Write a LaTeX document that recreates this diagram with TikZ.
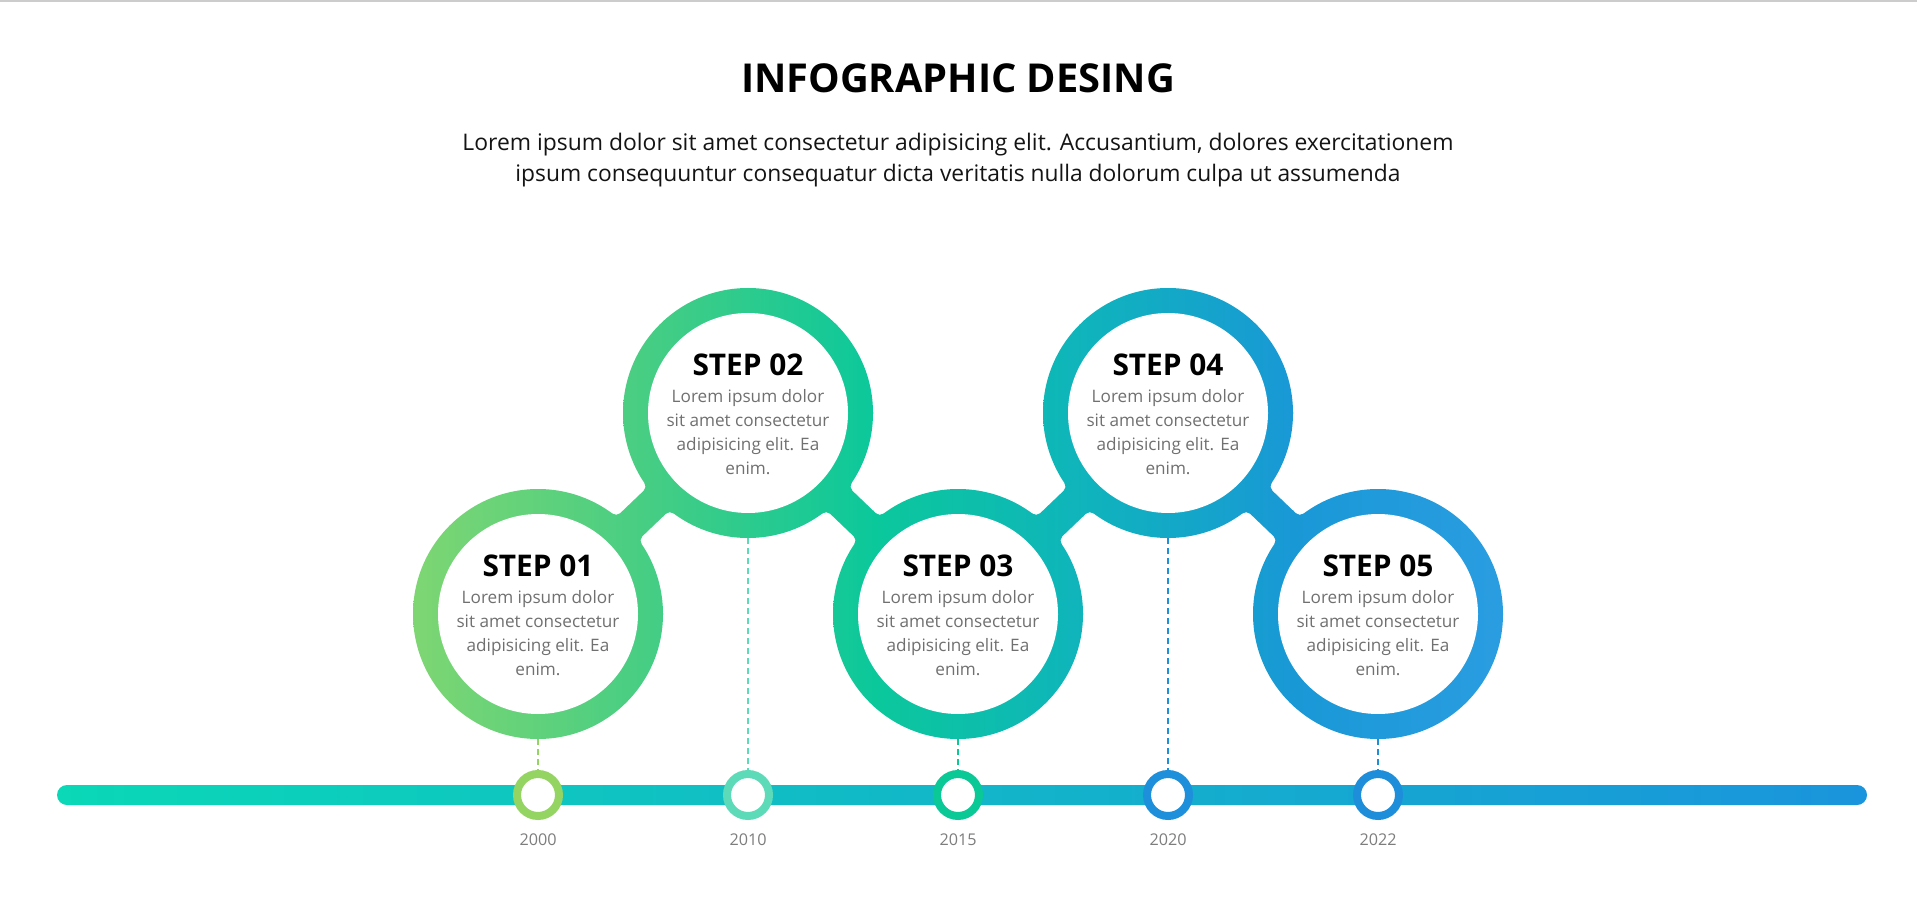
\documentclass[tikz,border=0pt]{standalone}
\usepackage{graphicx}
\usepackage{fontspec}
\setmainfont{Open Sans}
\usetikzlibrary{calc}
\definecolor{ga}{RGB}{126,214,114}
\definecolor{gb}{RGB}{66,205,133}
\definecolor{gc}{RGB}{11,200,155}
\definecolor{gd}{RGB}{15,180,188}
\definecolor{ge}{RGB}{25,152,214}
\definecolor{gf}{RGB}{42,157,225}
\definecolor{tla}{RGB}{10,216,182}
\definecolor{tlb}{RGB}{26,148,220}
\definecolor{bodygray}{RGB}{112,112,112}
\definecolor{yeargray}{RGB}{125,125,125}
\definecolor{ya}{RGB}{147,212,98}
\definecolor{yb}{RGB}{93,219,184}
\definecolor{yc}{RGB}{11,200,151}
\definecolor{yd}{RGB}{30,143,219}
\definecolor{ye}{RGB}{30,142,219}
\definecolor{topline}{RGB}{204,204,204}
\newcommand\ringgrad{%
  \shade[left color=ga,right color=gb] (413,280) rectangle (663.6,750);
  \shade[left color=gb,right color=gc] (663,280) rectangle (873.6,750);
  \shade[left color=gc,right color=gd] (873,280) rectangle (1083.6,750);
  \shade[left color=gd,right color=ge] (1083,280) rectangle (1293.6,750);
  \shade[left color=ge,right color=gf] (1293,280) rectangle (1504,750);
}
% neck with rounded fillets, drawn in a local frame (origin at first centre, x toward second)
\newcommand\neckpath{%
  (123.22,20.99) arc[start angle=189.68, end angle=270, radius=6]
  -- (161.56,16) arc[start angle=270, end angle=350.32, radius=6]
  -- (180,21) -- (180,-21) -- (167.48,-20.99)
  arc[start angle=9.68, end angle=90, radius=6]
  -- (129.14,-16) arc[start angle=90, end angle=170.32, radius=6]
  -- (110,-21) -- (110,21) -- cycle}
\tikzset{
  steptitle/.style={text=black, inner sep=0pt},
  stepbody/.style={text=bodygray, inner sep=0pt},
  yearring/.style={circle, line width=8pt, fill=white, minimum size=42pt, inner sep=0pt},
  yearlabel/.style={text=yeargray, inner sep=0pt},
  dashline/.style={line width=2pt, dash pattern=on 6pt off 4pt},
  ringnode/.style={circle, minimum size=250pt, inner sep=0pt}
}
\begin{document}
\begin{tikzpicture}[x=1pt,y=-1pt]
\useasboundingbox (0,0) rectangle (1917,909);
\fill[white] (0,0) rectangle (1917,909);
\fill[topline] (0,0) rectangle (1917,2);

\node[inner sep=0pt] (title) at (958,78.5) {\resizebox{434pt}{!}{\fontsize{38}{42}\selectfont\bfseries INFOGRAPHIC DESING}};
\node[inner sep=0pt, text={rgb,255:red,20;green,20;blue,20}] (sub1) at (958,144.5)
  {\resizebox{991pt}{!}{\fontsize{20}{24}\selectfont Lorem ipsum dolor sit amet consectetur adipisicing elit. Accusantium, dolores exercitationem}};
\node[inner sep=0pt, text={rgb,255:red,20;green,20;blue,20}] (sub2) at (958,176)
  {\resizebox{885pt}{!}{\fontsize{20}{24}\selectfont ipsum consequuntur consequatur dicta veritatis nulla dolorum culpa ut assumenda}};

% ring centres
\node[ringnode] (c1) at (538,614) {};
\node[ringnode] (c2) at (748,413) {};
\node[ringnode] (c3) at (958,614) {};
\node[ringnode] (c4) at (1168,413) {};
\node[ringnode] (c5) at (1378,614) {};

% timeline
\shade[left color=tla, right color=tlb, rounded corners=10pt] (57,785) rectangle (1867,805);

% year markers
\node[yearring, draw=ya] (y1) at (538,795) {};
\node[yearring, draw=yb] (y2) at (748,795) {};
\node[yearring, draw=yc] (y3) at (958,795) {};
\node[yearring, draw=yd] (y4) at (1168,795) {};
\node[yearring, draw=ye] (y5) at (1378,795) {};
\foreach \i/\yr in {1/2000,2/2010,3/2015,4/2020,5/2022}{
  \node[yearlabel] (l\i) at ($(y\i.center)+(0,45)$) {\resizebox{37pt}{!}{\fontsize{16}{18}\selectfont \yr}};
}

% dashed drop lines
\draw[dashline, draw=ya] (c1.south) -- (y1.north);
\draw[dashline, draw=yb] (c2.south) -- (y2.north);
\draw[dashline, draw=yc] (c3.south) -- (y3.north);
\draw[dashline, draw=yd] (c4.south) -- (y4.north);
\draw[dashline, draw=ye] (c5.south) -- (y5.north);

% necks
\foreach \a/\ang in {c1/43.746,c2/-43.746,c3/43.746,c4/-43.746}{
  \begin{scope}[shift={(\a.center)}, rotate=\ang]
    \clip \neckpath;
    \begin{scope}[reset cm]
      \ringgrad
    \end{scope}
  \end{scope}
}
% rings
\foreach \c in {c1,c2,c3,c4,c5}{
  \begin{scope}
    \clip (\c.center) circle (125pt);
    \ringgrad
  \end{scope}
  \fill[white] (\c.center) circle (100pt);
}

% texts
\foreach \c/\n in {c1/01,c2/02,c3/03,c4/04,c5/05}{
  \node[steptitle] (\c t) at ($(\c.center)+(0,-48)$) {\resizebox{111pt}{!}{\fontsize{26}{30}\selectfont\bfseries STEP \n}};
  \node[stepbody] (\c b) at ($(\c.center)+(0,20.5)$) {\resizebox{163pt}{!}{\fontsize{16}{22.4}\selectfont\begin{tabular}{@{}c@{}}Lorem ipsum dolor\\sit amet consectetur\\adipisicing elit. Ea\\enim.\end{tabular}}};
}
\end{tikzpicture}
\end{document}
